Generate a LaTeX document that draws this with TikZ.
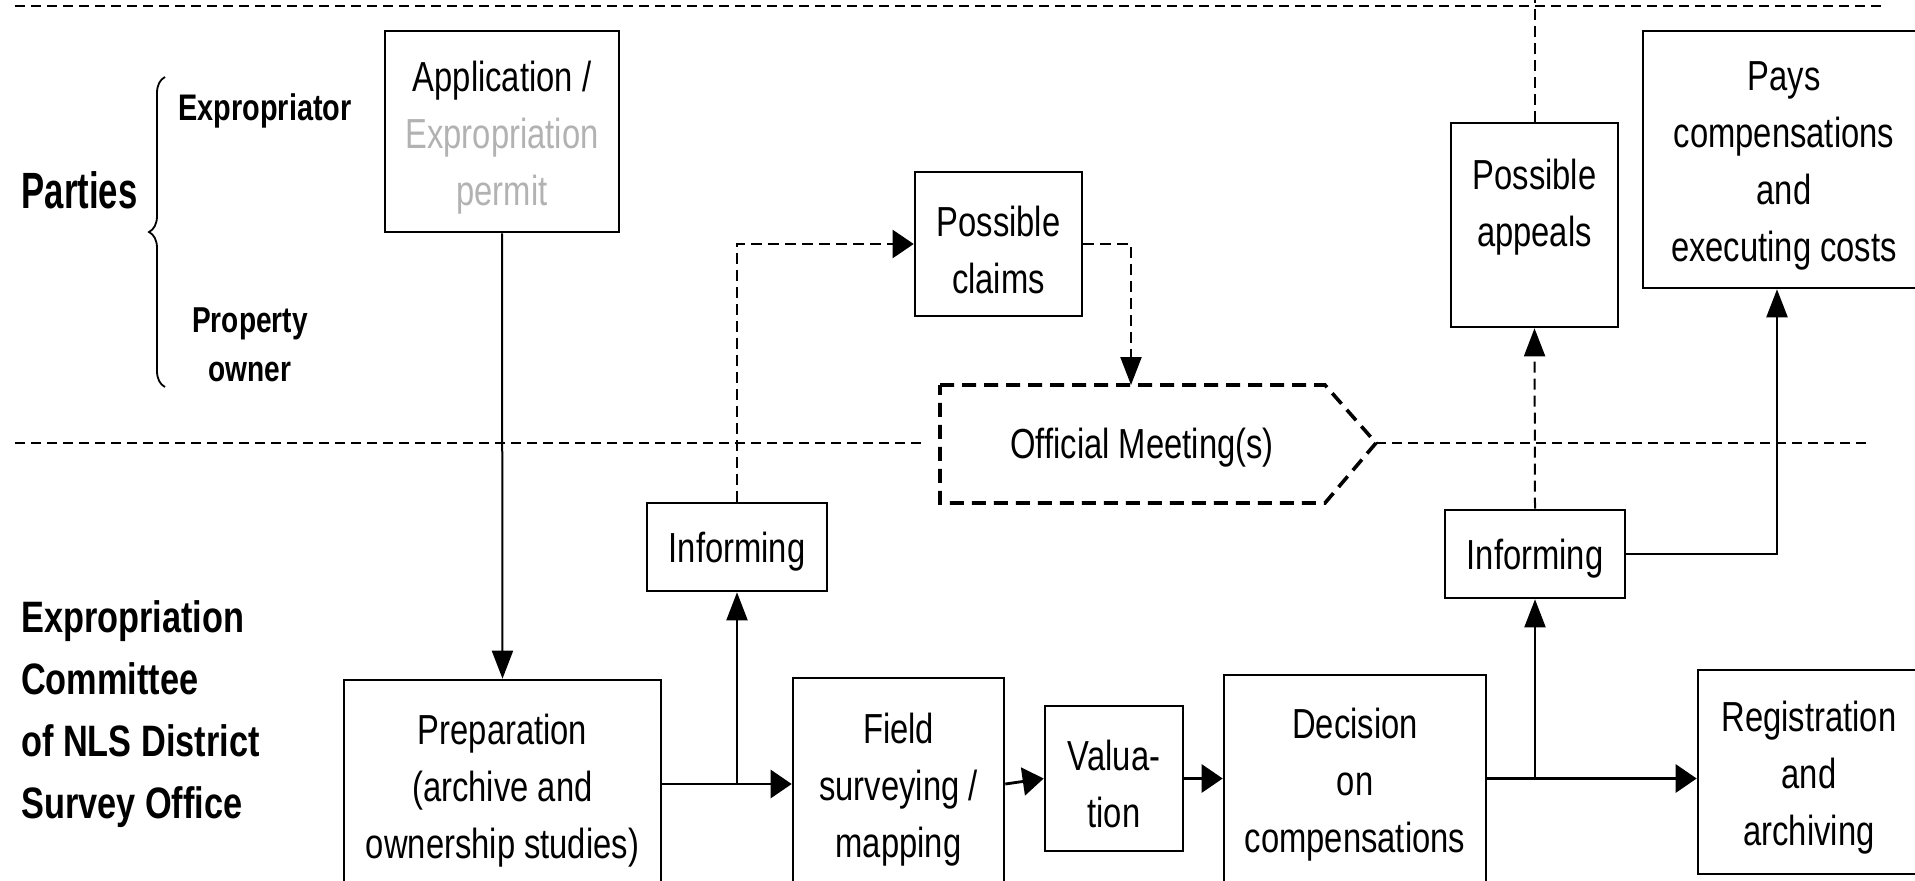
\documentclass[tikz,border=0pt]{standalone}
\usepackage{fontspec}
\setmainfont{Liberation Sans}[FakeStretch=0.78]
\newfontfamily\partiesfont{Liberation Sans}[FakeStretch=0.68]
\usetikzlibrary{arrows.meta,decorations.pathreplacing}
\definecolor{appgray}{RGB}{178,178,178}
\newcommand{\mytopstrut}{\rule{0pt}{42pt}}
\newcommand{\myinfstrut}{\rule[-10pt]{0pt}{50pt}}
\begin{document}
\begin{tikzpicture}[x=1pt,y=-1pt,
  box/.style={draw, line width=2.6pt, inner sep=0pt, align=center,
    font=\fontsize{42}{57}\selectfont},
  vtip/.style={-{Triangle[length=28pt,width=21pt]}},
  htip/.style={-{Triangle[length=21pt,width=28pt]}},
  vconn/.style={line width=2pt, vtip},
  hconn/.style={line width=2.8pt, htip},
  dashedline/.style={dash pattern=on 11pt off 6pt},
  sepline/.style={line width=2.2pt, dash pattern=on 10pt off 6pt},
  lbl/.style={font=\fontsize{44}{62}\selectfont\bfseries, align=left, inner sep=0pt},
  party/.style={font=\fontsize{37}{49}\selectfont\bfseries, align=center, inner sep=0pt}
]
\useasboundingbox (0,0) rectangle (1915,881);
\clip (0,0) rectangle (1915,881);

% separators
\draw[sepline] (15,6) -- (1881,6);
\draw[sepline] (15,443) -- (922,443);
\draw[sepline] (1376,443) -- (1869,443);

% left labels
\node[font=\partiesfont\fontsize{51}{56}\selectfont\bfseries, inner sep=0pt] (parties) at (79.5,190) {Parties};
\draw[line width=1.8pt, decorate, decoration={brace, amplitude=16pt}] (165,387) -- (165,77);
\node[party, anchor=base] (expr) at (265,120) {Expropriator};
\node[party, font=\fontsize{36}{49}\selectfont\bfseries] (owner) at (250,344.5) {Property\\owner};
\node[lbl, anchor=west] (committee) at (21,714) {Expropriation\\Committee\\of NLS District\\Survey Office};

% boxes
\node[box, minimum width=234pt, minimum height=201pt] (app) at (502,131.5)
  {\mytopstrut Application /\\\textcolor{appgray}{Expropriation}\\\textcolor{appgray}{permit}};
\node[box, minimum width=167pt, minimum height=144pt] (claims) at (998.5,244) {\mytopstrut Possible\\claims};
\node[box, minimum width=167pt, minimum height=204pt] (appeals) at (1534.5,225) {\mytopstrut Possible\\appeals\\~};
\node[box, minimum width=282pt, minimum height=257pt] (pays) at (1784,159.5)
  {\mytopstrut Pays\\compensations\\and\\executing costs};
\node[box, minimum width=180pt, minimum height=88pt] (inf1) at (737,547) {\myinfstrut Informing};
\node[box, minimum width=180pt, minimum height=88pt] (inf2) at (1535,554) {\myinfstrut Informing};
\node[box, minimum width=317pt, minimum height=210pt] (prep) at (502.5,785)
  {\mytopstrut Preparation\\(archive and\\ownership studies)};
\node[box, minimum width=211pt, minimum height=212pt] (field) at (898.5,784)
  {\mytopstrut Field\\surveying /\\mapping};
\node[box, minimum width=138pt, minimum height=145pt] (val) at (1114,778.5) {\mytopstrut Valua-\\tion};
\node[box, minimum width=262pt, minimum height=207pt] (dec) at (1355,778.5)
  {\mytopstrut Decision\\on\\compensations};
\node[box, minimum width=222pt, minimum height=204pt] (reg) at (1809,772)
  {\mytopstrut Registration\\and\\archiving};

% official meeting
\draw[line width=3.6pt, dash pattern=on 14pt off 8pt] (940,385) -- (1325,385) -- (1376,443) -- (1325,503) -- (940,503) -- cycle;
\node[font=\fontsize{42}{57}\selectfont, inner sep=0pt] (meet) at (1142,448) {Official Meeting(s)};
\coordinate (mtop) at (1131,385);
\coordinate (topend) at (1534.5,0);

% connectors
\draw[vconn] (app.south) -- (prep.north);
\draw[hconn] (prep.east |- field.west) -- (field.west);
\draw[vconn] (inf1.south |- field.west) -- (inf1.south);
\draw[line width=2.2pt, dashedline, htip] (inf1.north) |- (claims.west);
\draw[line width=2.2pt, dashedline, vtip] (claims.east) -| (mtop);
\draw[hconn] (field.east) -- (val.west);
\draw[hconn] (val.east) -- (dec.west);
\draw[hconn] (dec.east) -- (dec.east -| reg.west);
\draw[vconn] (inf2.south |- dec.east) -- (inf2.south);
\draw[line width=2pt, dashedline, vtip] (inf2.north) -- (appeals.south);
\draw[line width=2pt, dashedline] (appeals.north) -- (topend);
\draw[line width=2.4pt, vtip] (inf2.east) -| ([xshift=-7pt]pays.south);
\end{tikzpicture}
\end{document}
